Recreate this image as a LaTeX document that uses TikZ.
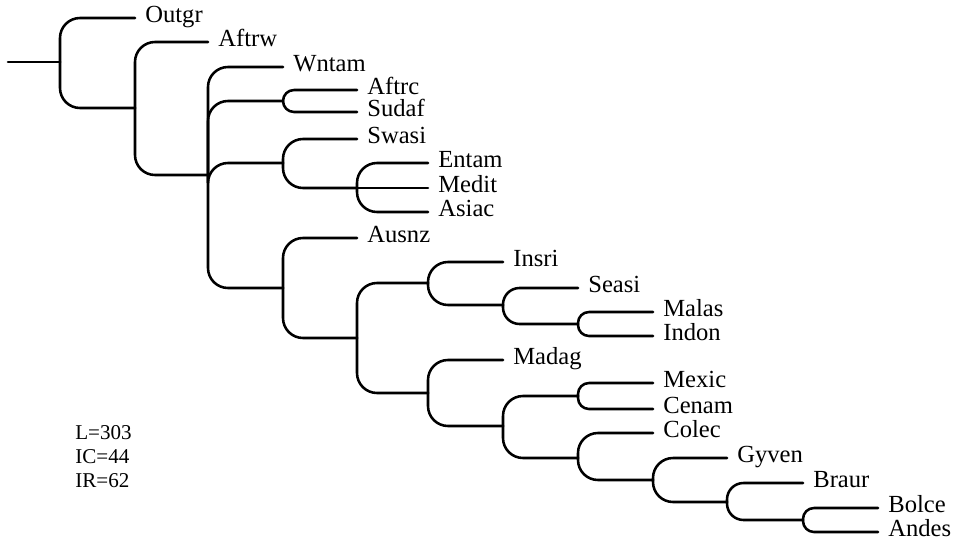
\documentclass[tikz,border=0pt]{standalone}
\usepackage{fontspec}
\setmainfont{Liberation Serif}
\usetikzlibrary{calc,positioning}

\begin{document}
\begin{tikzpicture}[x=0.02cm, y=-0.02cm,
  branch/.style={line width=1.45pt, line cap=round, rounded corners=0.4cm},
  short/.style={branch, rounded corners=0.33cm},
  twig/.style={branch, rounded corners=0.22cm},
  taxon/.style={anchor=mid west, inner xsep=0.2cm, inner ysep=0pt, font=\fontsize{14}{15}\selectfont},
  stat/.style={anchor=base west, inner sep=0pt, font=\fontsize{12}{13}\selectfont}]

\useasboundingbox (0,0) rectangle (957,541);

% internal nodes
\coordinate (root) at (8,62);
\coordinate (n1) at (60,62);
\coordinate (n2) at (135,108);
\coordinate (n3) at (208,175);
\coordinate (n4) at (283,101);
\coordinate (n5) at (283,163);
\coordinate (n6) at (357,188);
\coordinate (n7) at (283,288);
\coordinate (n8) at (357,338);
\coordinate (n9) at (428,283);
\coordinate (n10) at (503,305);
\coordinate (n11) at (578,324);
\coordinate (n12) at (428,393);
\coordinate (n13) at (503,426);
\coordinate (n14) at (578,396);
\coordinate (n15) at (578,458);
\coordinate (n16) at (653,480);
\coordinate (n17) at (727,502);
\coordinate (n18) at (803,520);

% terminals
\node[taxon] (outgr) at (135,18) {Outgr};
\node[taxon] (aftrw) at (208,42) {Aftrw};
\node[taxon] (wntam) at (283,67) {Wntam};
\node[taxon] (aftrc) at (357,90) {Aftrc};
\node[taxon] (sudaf) at (357,112) {Sudaf};
\node[taxon] (swasi) at (357,139) {Swasi};
\node[taxon] (entam) at (428,163) {Entam};
\node[taxon] (medit) at (428,188) {Medit};
\node[taxon] (asiac) at (428,212) {Asiac};
\node[taxon] (ausnz) at (357,238) {Ausnz};
\node[taxon] (insri) at (503,262) {Insri};
\node[taxon] (seasi) at (578,288) {Seasi};
\node[taxon] (malas) at (653,312) {Malas};
\node[taxon] (indon) at (653,336) {Indon};
\node[taxon] (madag) at (503,360) {Madag};
\node[taxon] (mexic) at (653,383) {Mexic};
\node[taxon] (cenam) at (653,409) {Cenam};
\node[taxon] (colec) at (653,433) {Colec};
\node[taxon] (gyven) at (727,458) {Gyven};
\node[taxon] (braur) at (803,483) {Braur};
\node[taxon] (bolce) at (878,508) {Bolce};
\node[taxon] (andes) at (878,532) {Andes};

\draw[branch] (root) -- (n1);
\foreach \a/\b in {n1/n2, n2/n3, n3/n4, n3/n5, n3/n7, n5/n6, n7/n8, n8/n9, n8/n12, n9/n10, n12/n13, n13/n14, n13/n15, n15/n16, n16/n17}
  \draw[branch] (\a) |- (\b);
\foreach \a/\b in {n10/n11, n17/n18}
  \draw[short] (\a) |- (\b);
\foreach \a/\b in {n1/outgr, n2/aftrw, n3/wntam, n5/swasi, n6/entam, n6/asiac, n7/ausnz, n9/insri, n12/madag, n15/colec, n16/gyven}
  \draw[branch] (\a) |- (\b.mid west);
\foreach \a/\b in {n10/seasi, n17/braur}
  \draw[short] (\a) |- (\b.mid west);
\foreach \a/\b in {n4/aftrc, n4/sudaf, n11/malas, n11/indon, n14/mexic, n14/cenam, n18/bolce, n18/andes}
  \draw[twig] (\a) |- (\b.mid west);
\draw[branch] (n6) -- (medit.mid west);

\node[stat] (len) at (75,439) {L=303};
\node[stat] (ci) at (75,463) {IC=44};
\node[stat] (ri) at (75,487) {IR=62};
\end{tikzpicture}
\end{document}
